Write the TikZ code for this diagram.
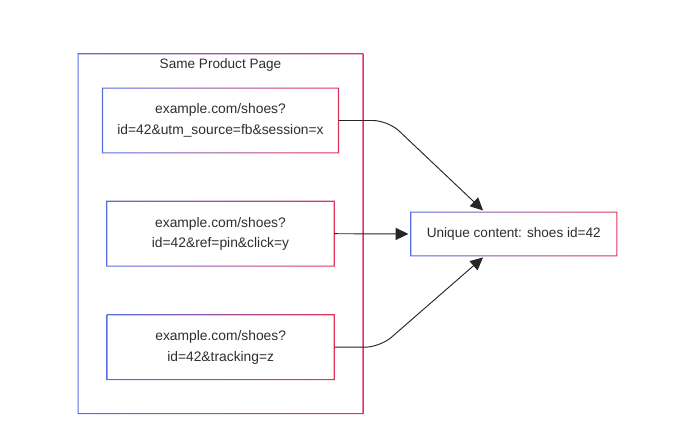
\documentclass[tikz,border=0pt]{standalone}
\usepackage{fontspec}
\setmainfont{Liberation Sans}
\usetikzlibrary{arrows.meta,calc}
\definecolor{edgeblue}{RGB}{86,110,226}
\definecolor{edgered}{RGB}{226,52,92}
\definecolor{textgray}{RGB}{45,45,45}
\tikzset{
  urlbox/.style={minimum height=1.93cm, align=center, text=textgray, font=\fontsize{11.8}{17.5}\selectfont},
  link/.style={draw=black!85, line width=0.8pt, shorten >=2pt, -{Triangle[length=0.38cm,width=0.36cm]}},
}
\begin{document}
\begin{tikzpicture}[x=0.03cm,y=-0.03cm]
    \useasboundingbox (0,0) rectangle (692,441);

    % page box and its title
    \node[minimum width=8.53cm, minimum height=10.78cm] (page) at (220.5,233.7) {};
    \node[text=textgray, font=\fontsize{11.6}{14}\selectfont] (title) at (220.5,64.5) {Same Product Page};

    % three urls for the same page
    \node[urlbox, minimum width=7.07cm] (u1) at (220.5,120.5) {example.com/shoes?\\id=42\&utm\_source=fb\&session=x};
    \node[urlbox, minimum width=6.81cm] (u2) at (220.5,233.7) {example.com/shoes?\\id=42\&ref=pin\&click=y};
    \node[urlbox, minimum width=6.80cm] (u3) at (220.7,347.2) {example.com/shoes?\\id=42\&tracking=z};

    % target on the right
    \node[minimum width=6.17cm, minimum height=1.30cm, text=textgray, font=\fontsize{11.6}{14}\selectfont] (uniq) at (513.8,234) {Unique content: shoes id=42};

    % blue to red frames
    \foreach \n in {page,u1,u2,u3,uniq}
        \shade[left color=edgeblue, right color=edgered, even odd rule]
            ([shift={(-0.5pt,-0.5pt)}]\n.south west) rectangle ([shift={(0.5pt,0.5pt)}]\n.north east)
            ([shift={(0.5pt,0.5pt)}]\n.south west) rectangle ([shift={(-0.5pt,-0.5pt)}]\n.north east);

    % arrows
    \draw[link, rounded corners=0.45cm] (u1.east) -- (388,120.5) -- ($(uniq.north)+(-29,0)$);
    \draw[link] (u2.east) -- (uniq.west);
    \draw[link, rounded corners=0.45cm] (u3.east) -- (380,347.2) -- ($(uniq.south)+(-29,0)$);

\end{tikzpicture}
\end{document}
